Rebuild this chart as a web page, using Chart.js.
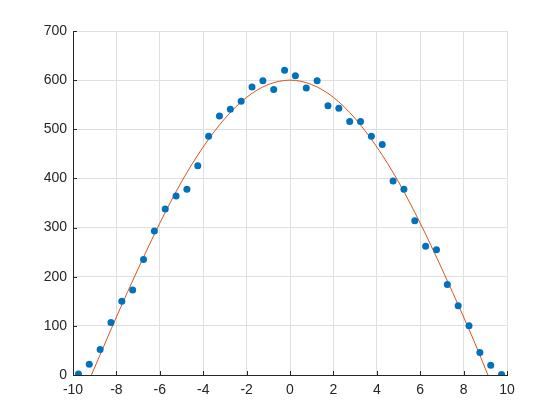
<!DOCTYPE html>
<html>
<head>
<meta charset="utf-8">
<script src="https://cdn.jsdelivr.net/npm/chart.js@4"></script>
<style>
  html, body { margin: 0; padding: 0; background: #fff; }
  #wrap { width: 560px; height: 420px; }
</style>
</head>
<body>
<div id="wrap"><canvas id="chartFit"></canvas></div>
<script>
// measured samples (x at 0.5 steps)
const sampleX = [-9.75, -9.25, -8.75, -8.25, -7.75, -7.25, -6.75, -6.25, -5.75, -5.25,
    -4.75, -4.25, -3.75, -3.25, -2.75, -2.25, -1.75, -1.25, -0.75, -0.25,
    0.25, 0.75, 1.25, 1.75, 2.25, 2.75, 3.25, 3.75, 4.25, 4.75,
    5.25, 5.75, 6.25, 6.75, 7.25, 7.75, 8.25, 8.75, 9.25, 9.75];
const sampleY = [2, 22, 52, 107, 150, 173, 235, 293, 338, 364,
    378, 426, 486, 527, 541, 557, 586, 599, 581, 620,
    609, 584, 599, 548, 543, 516, 516, 486, 469, 395,
    378, 314, 262, 255, 184, 141, 100, 46, 20, 1];

// fitted curve
const fitX = [-9.15, -8.5, -8, -7, -6, -5, -4, -3, -2, -1, 0, 1, 2, 3, 4, 5, 6, 7, 8, 8.5, 9.12];
const fitY = [0, 67, 118, 216, 309, 393, 464, 522, 565, 591, 600, 591, 565, 522, 464, 393, 309, 216, 118, 67, 0];

const xTicks = [-10, -8, -6, -4, -2, 0, 2, 4, 6, 8, 10];
const yTicks = [0, 100, 200, 300, 400, 500, 600, 700];

const axisColor = '#262626';
const tickFont = { family: 'Liberation Sans, Arial, sans-serif', size: 14 };

// matlab style inward tick marks
const innerTicks = {
    id: 'innerTicks',
    afterDraw(chart) {
        const ctx = chart.ctx;
        const area = chart.chartArea;
        const xs = chart.scales.x, ys = chart.scales.y;
        ctx.save();
        ctx.strokeStyle = axisColor;
        ctx.lineWidth = 1;
        ctx.beginPath();
        xTicks.forEach(v => {
            const px = Math.round(xs.getPixelForValue(v)) + 0.5;
            ctx.moveTo(px, area.bottom);
            ctx.lineTo(px, area.bottom - 4);
        });
        yTicks.forEach(v => {
            const py = Math.round(ys.getPixelForValue(v)) + 0.5;
            ctx.moveTo(area.left, py);
            ctx.lineTo(area.left + 4, py);
        });
        ctx.stroke();
        ctx.restore();
    }
};

const data = {
    datasets: [{
        label: 'data',
        type: 'scatter',
        data: sampleX.map((x, i) => ({ x: x, y: sampleY[i] })),
        backgroundColor: '#0072BD',
        borderColor: '#0072BD',
        pointRadius: 3.5,
        pointBorderWidth: 0,
        order: 1
    }, {
        label: 'fit',
        type: 'line',
        data: fitX.map((x, i) => ({ x: x, y: fitY[i] })),
        borderColor: '#D95319',
        borderWidth: 1,
        pointRadius: 0,
        fill: false,
        cubicInterpolationMode: 'monotone',
        clip: false,
        order: 2
    }]
};

const config = {
    type: 'scatter',
    data,
    options: {
        responsive: true,
        maintainAspectRatio: false,
        animation: false,
        layout: { padding: { left: 0, top: 31, right: 53, bottom: 0 } },
        plugins: { legend: { display: false }, tooltip: { enabled: false } },
        scales: {
            x: {
                type: 'linear',
                min: -10, max: 10,
                afterBuildTicks: s => { s.ticks = xTicks.map(v => ({ value: v })); },
                afterFit: s => { s.height = 45; },
                grid: { color: '#dfdfdf', drawTicks: false },
                border: { color: axisColor, width: 1 },
                ticks: { color: axisColor, font: tickFont, padding: 7, maxRotation: 0 }
            },
            y: {
                type: 'linear',
                min: 0, max: 700,
                afterBuildTicks: s => { s.ticks = yTicks.map(v => ({ value: v })); },
                afterFit: s => { s.width = 73; },
                grid: { color: '#dfdfdf', drawTicks: false },
                border: { color: axisColor, width: 1 },
                ticks: { color: axisColor, font: tickFont, padding: 6 }
            }
        }
    },
    plugins: [innerTicks]
};

var chartFit = new Chart(document.getElementById('chartFit'), config);
</script>
</body>
</html>
